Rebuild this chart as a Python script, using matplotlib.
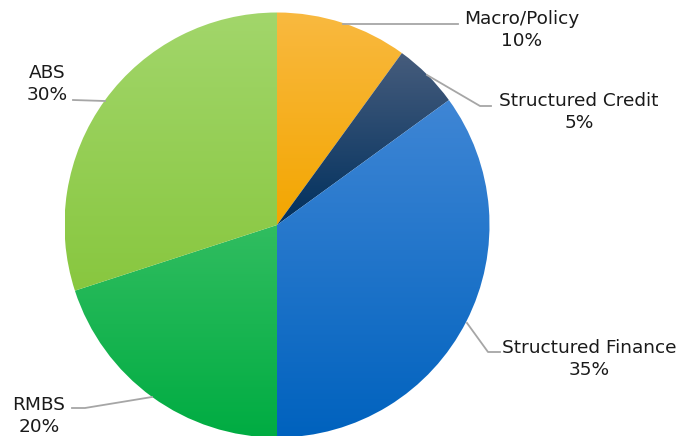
import numpy as np
import matplotlib.pyplot as plt
from matplotlib.colors import LinearSegmentedColormap

labels = ["Macro/Policy", "Structured Credit", "Structured Finance", "RMBS", "ABS"]
shares = [10, 5, 35, 20, 30]
# gradient colours per slice: (top, bottom)
top_colors = ["#F9B940", "#465C7C", "#3F86D5", "#31BD60", "#A2D66B"]
bottom_colors = ["#F3A600", "#00305E", "#0062BE", "#00AC42", "#88C73F"]

W, H = 679, 436
fig = plt.figure(figsize=(W / 100, H / 100), dpi=100)
ax = fig.add_axes([0, 0, 1, 1])

cx, cy, r = 277, H - 225, 212.5

wedges, _ = ax.pie(shares, startangle=90, counterclock=False,
                   center=(cx, cy), radius=r, frame=True,
                   wedgeprops=dict(linewidth=0, edgecolor="none"))

# vertical gradient fill per slice, clipped to the wedge
grad = np.linspace(1, 0, 256).reshape(-1, 1)
for w, c1, c2 in zip(wedges, top_colors, bottom_colors):
    w.set_facecolor("none")
    bb = w.get_path().get_extents(w.get_patch_transform())
    cmap = LinearSegmentedColormap.from_list("g", [c2, c1])
    im = ax.imshow(grad, cmap=cmap, aspect="auto", origin="upper",
                   extent=(bb.x0, bb.x1, bb.y0, bb.y1), interpolation="bilinear",
                   zorder=1)
    im.set_clip_path(w)
ax.set_xlim(0, W)
ax.set_ylim(0, H)
ax.axis("off")

# label centres and leader points in image coords
label_pos = [(522, 18), (579, 100), (589, 347), (39, 404), (47, 72)]
leaders = [
    [(343, 24), (458, 24)],
    [(427, 75), (480, 106), (491, 106)],
    [(467, 323), (488, 352), (500, 352)],
    [(152, 397), (85, 408), (72, 408)],
    [(105, 101), (73, 100)],
]

for lab, s, (tx, ty), pts in zip(labels, shares, label_pos, leaders):
    xs = [p[0] for p in pts]
    ys = [H - p[1] for p in pts]
    ax.plot(xs, ys, color="#A6A6A6", lw=1.3, zorder=2)
    ax.text(tx, H - ty - 12, f"{lab}\n{s}%", ha="center", va="center",
            fontsize=13.3, color="#1A1A1A", linespacing=1.3,
            family="DejaVu Sans", clip_on=False)

fig.savefig("out.png", dpi=100)
